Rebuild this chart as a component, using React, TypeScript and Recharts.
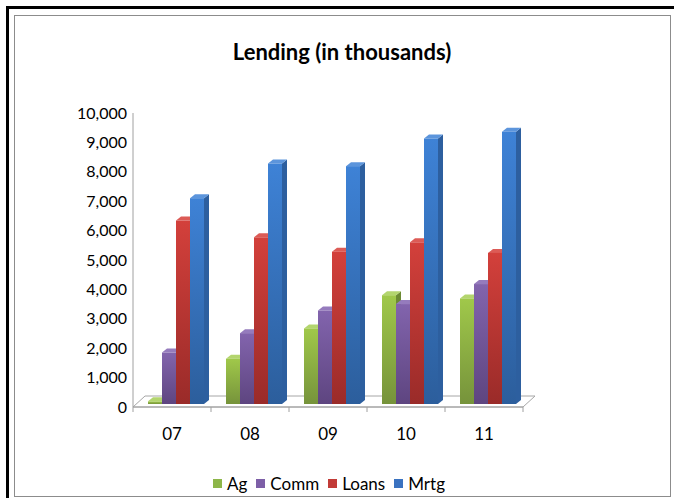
import React from 'react';
import { BarChart, Bar, XAxis, YAxis, Legend, Customized } from 'recharts';

const categories = ['07', '08', '09', '10', '11'];
const agValues = [90, 1540, 2570, 3700, 3590];
const commValues = [1750, 2410, 3180, 3400, 4080];
const loansValues = [6240, 5670, 5180, 5500, 5140];
const mrtgValues = [7000, 8180, 8090, 9030, 9260];
const yTicks = [0, 1000, 2000, 3000, 4000, 5000, 6000, 7000, 8000, 9000, 10000];

const data = categories.map((c, i) => ({
  cat: c,
  Ag: agValues[i],
  Comm: commValues[i],
  Loans: loansValues[i],
  Mrtg: mrtgValues[i],
}));

const FONT = 'Lato, "Open Sans", sans-serif';

const seriesStyle: Record<string, { top: string; bottom: string; cap: string; side: string; legend: string }> = {
  Ag: { top: '#a0c84a', bottom: '#76933b', cap: '#b3d56e', side: '#6c8a33', legend: '#8db649' },
  Comm: { top: '#8264ad', bottom: '#5e4580', cap: '#957bbd', side: '#5a417b', legend: '#7d5fa7' },
  Loans: { top: '#d3403b', bottom: '#9a2b29', cap: '#dc5b56', side: '#942725', legend: '#c23b37' },
  Mrtg: { top: '#3e82d6', bottom: '#2c5e9c', cap: '#5c95dc', side: '#2d5f9f', legend: '#3a72c0' },
};

const DX0 = 4;
const DY0 = 3;
const DEPTH_X = 5;
const DEPTH_Y = 4;

const make3D = (key: string) => (props: any) => {
  const { x, y, width, height } = props;
  if (x == null || y == null) return <g />;
  const s = seriesStyle[key];
  const x0 = x + DX0;
  const y0 = y - DY0;
  const w = width;
  const h = Math.max(height, 0);
  const top = `${x0},${y0} ${x0 + w},${y0} ${x0 + w + DEPTH_X},${y0 - DEPTH_Y} ${x0 + DEPTH_X},${y0 - DEPTH_Y}`;
  const side = `${x0 + w},${y0} ${x0 + w + DEPTH_X},${y0 - DEPTH_Y} ${x0 + w + DEPTH_X},${y0 + h - DEPTH_Y} ${x0 + w},${y0 + h}`;
  return (
    <g>
      <polygon points={side} fill={s.side} />
      <polygon points={top} fill={s.cap} />
      <rect x={x0} y={y0} width={w} height={h} fill={`url(#grad-${key})`} />
    </g>
  );
};

const PLOT_LEFT = 133;
const PLOT_RIGHT = 523;
const PLOT_BOTTOM = 407;

const Floor = () => (
  <g>
    <polygon
      points={`${PLOT_LEFT},${PLOT_BOTTOM} ${PLOT_RIGHT},${PLOT_BOTTOM} ${PLOT_RIGHT + 12},${PLOT_BOTTOM - 11} ${PLOT_LEFT + 12},${PLOT_BOTTOM - 11}`}
      fill="#ffffff"
      stroke="#a6a6a6"
      strokeWidth={1}
    />
  </g>
);

const XTick = (props: any) => {
  const { x, y, payload, index } = props;
  const half = 39;
  return (
    <g>
      <line x1={x + half} y1={PLOT_BOTTOM} x2={x + half} y2={PLOT_BOTTOM + 5} stroke="#a0a0a0" />
      {index === 0 && <line x1={x - half} y1={PLOT_BOTTOM} x2={x - half} y2={PLOT_BOTTOM + 5} stroke="#a0a0a0" />}
      <text x={x} y={y + 31} textAnchor="middle" fontFamily={FONT} fontSize={17} fill="#000">
        {payload.value}
      </text>
    </g>
  );
};

const LegendContent = () => (
  <div style={{ display: 'flex', alignItems: 'center', paddingLeft: 213, fontFamily: FONT, fontSize: 17, color: '#000' }}>
    {['Ag', 'Comm', 'Loans', 'Mrtg'].map((k) => (
      <div key={k} style={{ display: 'flex', alignItems: 'center', marginRight: 9 }}>
        <span style={{ display: 'inline-block', width: 9, height: 9, background: seriesStyle[k].legend, marginRight: 5 }} />
        <span>{k}</span>
      </div>
    ))}
  </div>
);

export default function App() {
  return (
    <div style={{ position: 'absolute', left: 0, top: 0, width: 674, height: 498, background: '#fff', overflow: 'hidden' }}>
      <div style={{ position: 'absolute', left: 6, top: 6, width: 668, height: 3, background: '#000' }} />
      <div style={{ position: 'absolute', left: 6, top: 6, width: 3, height: 492, background: '#000' }} />
      <div style={{ position: 'absolute', left: 14, top: 15, width: 657, height: 482, border: '1px solid #8c8c8c', boxSizing: 'border-box' }} />
      <div style={{ position: 'absolute', left: 0, top: 0 }}>
        <BarChart
          width={674}
          height={498}
          data={data}
          margin={{ top: 113, right: 151, left: 73, bottom: 61 }}
          barSize={14}
          barGap={0}
        >
          <defs>
            {Object.keys(seriesStyle).map((k) => (
              <linearGradient key={k} id={`grad-${k}`} x1="0" y1="0" x2="0" y2="1">
                <stop offset="0%" stopColor={seriesStyle[k].top} />
                <stop offset="100%" stopColor={seriesStyle[k].bottom} />
              </linearGradient>
            ))}
          </defs>
          <text x={342} y={60} textAnchor="middle" fontFamily={FONT} fontSize={22} fontWeight={700} fill="#000">
            Lending (in thousands)
          </text>
          <Customized component={Floor} />
          <XAxis
            dataKey="cat"
            axisLine={{ stroke: '#a0a0a0' }}
            tickLine={false}
            tickSize={0}
            tick={<XTick />}
            height={30}
            interval={0}
          />
          <YAxis
            domain={[0, 10000]}
            ticks={yTicks}
            width={60}
            axisLine={{ stroke: '#a0a0a0' }}
            tickLine={false}
            tickSize={0}
            tickMargin={6}
            tick={{ fontFamily: FONT, fontSize: 16, fill: '#000' }}
            tickFormatter={(v: number) => v.toLocaleString('en-US')}
            interval={0}
          />
          <Legend
            layout="horizontal"
            verticalAlign="middle"
            align="center"
            content={<LegendContent />}
            wrapperStyle={{ left: 0, top: 473, width: 674 }}
          />
          <Bar dataKey="Ag" isAnimationActive={false} shape={make3D('Ag')} />
          <Bar dataKey="Comm" isAnimationActive={false} shape={make3D('Comm')} />
          <Bar dataKey="Loans" isAnimationActive={false} shape={make3D('Loans')} />
          <Bar dataKey="Mrtg" isAnimationActive={false} shape={make3D('Mrtg')} />
        </BarChart>
      </div>
    </div>
  );
}
